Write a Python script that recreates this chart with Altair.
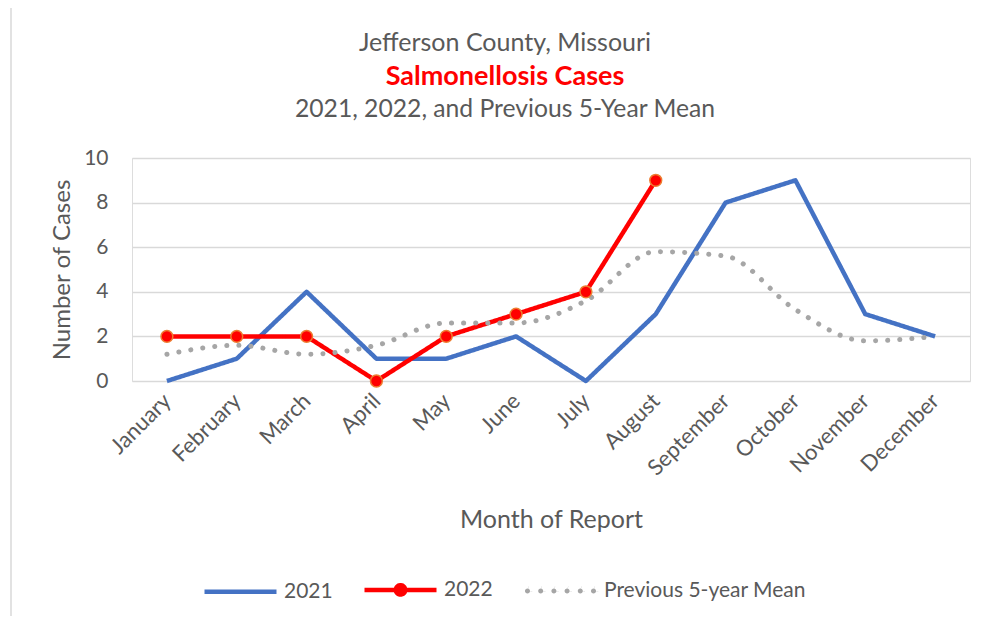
import altair as alt
import pandas as pd

months = ["January", "February", "March", "April", "May", "June", "July",
          "August", "September", "October", "November", "December"]
cases_2021 = [0, 1, 4, 1, 1, 2, 0, 3, 8, 9, 3, 2]
cases_2022 = [2, 2, 2, 0, 2, 3, 4, 9]  # January - August
mean_5yr = [1.2, 1.6, 1.2, 1.6, 2.6, 2.6, 3.6, 5.8, 5.6, 3.2, 1.8, 2.0]
series_names = ["2021", "2022", "Previous 5-year Mean"]
title_lines = ["Jefferson County, Missouri", "Salmonellosis Cases",
               "2021, 2022, and Previous 5-Year Mean"]
y_ticks = [0, 2, 4, 6, 8, 10]

FONT = "Lato"
GRAY = "#595959"
BLUE = "#4472C4"
RED = "#FF0000"
MEAN_GRAY = "#A6A6A6"
GRID = "#D9D9D9"

rows = []
for m, v in zip(months, cases_2021):
    rows.append({"month": m, "series": series_names[0], "cases": v})
for m, v in zip(months, cases_2022):
    rows.append({"month": m, "series": series_names[1], "cases": v})
df_lines = pd.DataFrame(rows)
df_2022 = df_lines[df_lines["series"] == series_names[1]]
df_mean = pd.DataFrame({"month": months, "series": series_names[2], "cases": mean_5yr})

x_enc = alt.X(
    "month:N", sort=months,
    scale=alt.Scale(type="point", domain=months, padding=0.5),
    axis=alt.Axis(labelAngle=315, labelAlign="right", labelBaseline="middle",
                  ticks=False, domain=False, grid=False, labelPadding=16,
                  labelFont=FONT, labelFontSize=22, labelColor=GRAY,
                  title="Month of Report", titleFont=FONT, titleFontSize=25,
                  titleFontWeight="normal", titleColor=GRAY,
                  titleY=138, titleBaseline="middle"),
)
y_enc = alt.Y(
    "cases:Q",
    scale=alt.Scale(domain=[0, 10], nice=False, zero=True),
    axis=alt.Axis(values=y_ticks, ticks=False, domain=False, grid=True,
                  gridColor=GRID, gridWidth=1.3, labelPadding=24,
                  labelFont=FONT, labelFontSize=21, labelColor=GRAY,
                  title="Number of Cases", titleFont=FONT, titleFontSize=24,
                  titleFontWeight="normal", titleColor=GRAY,
                  titleX=-70, titleBaseline="middle"),
)

# legend symbol shapes (normalised [-1, 1] paths)
path_line = "M-1,0H1"
path_2022 = "M-1,0H1M0.13,0A0.13,0.13,0,1,1,-0.13,0A0.13,0.13,0,1,1,0.13,0Z"
dots = []
for cx in [-0.917, -0.55, -0.183, 0.183, 0.55, 0.917]:
    r = 0.07
    dots.append(f"M{cx + r:.3f},0A{r},{r},0,1,1,{cx - r:.3f},0A{r},{r},0,1,1,{cx + r:.3f},0Z")
path_dots = "".join(dots)

legend = alt.Legend(
    title=None, orient="none", legendX=70, legendY=393, direction="horizontal",
    symbolSize=5184, symbolStrokeWidth=4.5, symbolOpacity=1,
    labelFont=FONT, labelFontSize=21, labelColor=GRAY, labelOffset=5,
    labelLimit=400, columnPadding=22, padding=0,
)
color_enc = alt.Color("series:N", scale=alt.Scale(domain=series_names,
                      range=[BLUE, RED, MEAN_GRAY]), legend=legend)
dash_enc = alt.StrokeDash("series:N", scale=alt.Scale(domain=series_names,
                          range=[[1, 0], [1, 0], [0.1, 12]]), legend=legend)
shape_enc = alt.Shape("series:N", scale=alt.Scale(domain=series_names,
                      range=[path_line, path_2022, path_dots]), legend=legend)

border = alt.Chart(pd.DataFrame({"a": [0]})).mark_rect(
    fill="transparent", stroke=GRID, strokeWidth=1.5
).encode(x=alt.value(-121), x2=alt.value(900), y=alt.value(-153.5), y2=alt.value(600))

legend_keys = alt.Chart(df_mean).transform_filter("false").mark_point(filled=True).encode(
    x=x_enc, y=y_enc, color=color_enc, shape=shape_enc, strokeDash=dash_enc)

obs_lines = alt.Chart(df_lines).mark_line(strokeWidth=4.5, strokeJoin="round").encode(
    x=x_enc, y=y_enc, color=color_enc, strokeDash=dash_enc)

mean_line = alt.Chart(df_mean).mark_line(
    interpolate="monotone", strokeWidth=5, strokeCap="round"
).encode(x=x_enc, y=y_enc, color=color_enc, strokeDash=dash_enc)

points = alt.Chart(df_2022).mark_circle(
    size=140, color=RED, stroke="#ED7D31", strokeWidth=1.5, opacity=1
).encode(x=x_enc, y=y_enc)

def title_text(txt, y, size, color, weight):
    return alt.Chart(pd.DataFrame({"t": [txt]})).mark_text(
        font=FONT, fontSize=size, color=color, fontWeight=weight,
        align="center", baseline="middle"
    ).encode(text="t:N", x=alt.value(373), y=alt.value(y))

t1 = title_text(title_lines[0], -115, 25, GRAY, "normal")
t2 = title_text(title_lines[1], -81, 27, RED, "bold")
t3 = title_text(title_lines[2], -48, 24.7, GRAY, "normal")

chart = alt.layer(border, legend_keys, obs_lines, mean_line, points, t1, t2, t3).properties(
    width=838, height=223,
    padding={"left": 124, "top": 150, "right": 4, "bottom": 235},
    autosize=alt.AutoSizeParams(type="none"),
).configure_view(stroke=None).configure(background="white")

chart.save("out.html", embed_options={"renderer": "svg", "actions": False})
